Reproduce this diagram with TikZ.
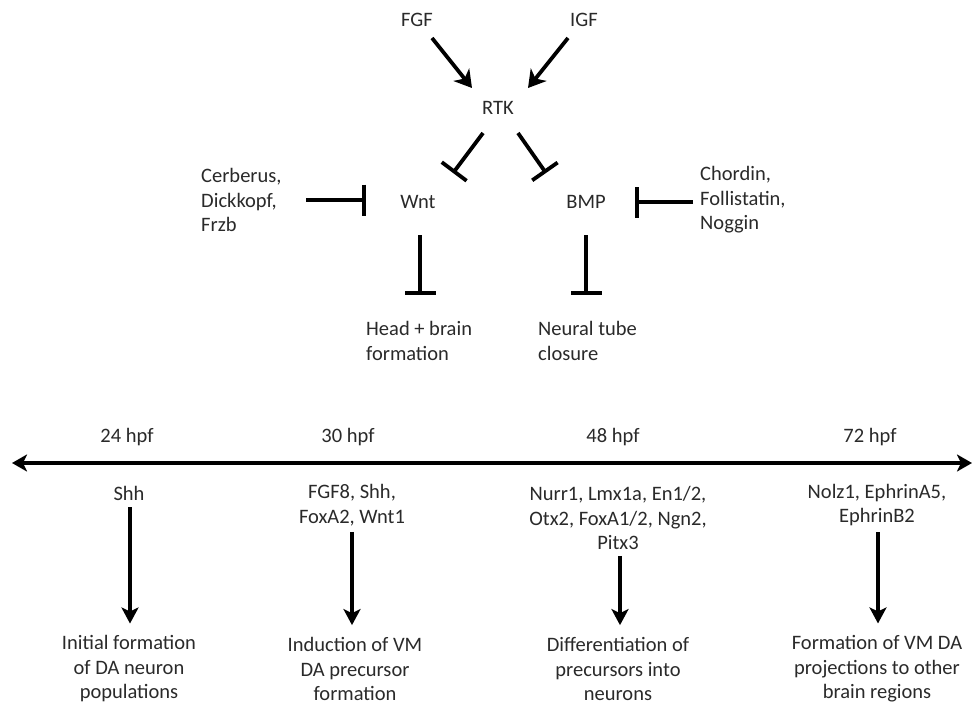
\documentclass[tikz,border=0pt]{standalone}
\usepackage{fontspec}
\setmainfont{Carlito}
\usetikzlibrary{arrows.meta,calc}
\definecolor{txt}{HTML}{2A2A2A}
\begin{document}
\begin{tikzpicture}[x=1pt,y=-1pt,
  lbl/.style={font=\fontsize{20.5}{24.5}\selectfont, text=txt, inner sep=0pt},
  act/.style={line width=3.8pt, -{Stealth[length=17pt,width=20pt,inset=5pt]}},
  inh/.style={line width=3.8pt, -{Bar[width=31pt]}},
  tl/.style={line width=3.6pt, {Stealth[length=15pt,width=17pt,inset=4pt]}-{Stealth[length=15pt,width=17pt,inset=4pt]}},
  down/.style={line width=3.8pt, -{Stealth[length=16pt,width=17pt,inset=4pt]}}]
\useasboundingbox (0,0) rectangle (975,704);
\fill[white] (0,0) rectangle (975,704);
% top pathway
\node[lbl] (FGF) at (417,20) {FGF};
\node[lbl] (IGF) at (584,20) {IGF};
\node[lbl] (RTK) at (498,108) {RTK};
\node[lbl] (Wnt) at (418,202) {Wnt};
\node[lbl] (BMP) at (586,202) {BMP};
\node[lbl, anchor=west, align=left] (Cer) at (201,200) {Cerberus,\\Dickkopf,\\Frzb};
\node[lbl, anchor=west, align=left] (Cho) at (700,200) {Chordin,\\Follistatin,\\Noggin};
\node[lbl, anchor=west, align=left] (Head) at (366,341) {Head + brain\\formation};
\node[lbl, anchor=west, align=left] (Neur) at (538,341) {Neural tube\\closure};

\draw[act] ($(FGF)+(15,18)$) -- ($(RTK)+(-26,-20)$);
\draw[act] ($(IGF)+(-16,18)$) -- ($(RTK)+(30,-20)$);
\draw[inh] ($(RTK)+(-15,25)$) -- ($(Wnt)+(35,-29)$);
\draw[inh] ($(RTK)+(20,25)$) -- ($(BMP)+(-40,-29)$);
\draw[inh] ($(Cer.west)+(105,0)$) -- ($(Wnt)+(-52,-2)$);
\draw[inh] ($(BMP)+(107,0)$) -- ($(BMP)+(49,0)$);
\draw[inh] ($(Wnt)+(2,33)$) -- ($(Wnt)+(2,93)$);
\draw[inh] ($(BMP)+(0,33)$) -- ($(BMP)+(0,93)$);

% timeline
\coordinate (TL) at (12,463);
\coordinate (TR) at (972,463);
\draw[tl] (TL) -- (TR);
\node[lbl] (t24) at (127,437) {24 hpf};
\node[lbl] (t30) at (348,437) {30 hpf};
\node[lbl] (t48) at (613,437) {48 hpf};
\node[lbl] (t72) at (870,437) {72 hpf};

\node[lbl] (g24) at (129,493) {Shh};
\node[lbl, align=center] (g30) at (352,505) {FGF8, Shh,\\FoxA2, Wnt1};
\node[lbl, align=center] (g48) at (618,518) {Nurr1, Lmx1a, En1/2,\\Otx2, FoxA1/2, Ngn2,\\Pitx3};
\node[lbl, align=center] (g72) at (877,505) {Nolz1, EphrinA5,\\EphrinB2};

\node[lbl, align=center] (o24) at (129,669) {Initial formation\\of DA neuron\\populations};
\node[lbl, align=center] (o30) at (355,669) {Induction of VM\\DA precursor\\formation};
\node[lbl, align=center] (o48) at (618,669) {Differentiation of\\precursors into\\neurons};
\node[lbl, align=center] (o72) at (877,669) {Formation of VM DA\\projections to other\\brain regions};

\draw[down] ($(g24.south)+(1,7)$) -- ($(o24.north)+(1,-12)$);
\draw[down] ($(g30.south)+(0,6)$) -- ($(o30.north)+(-3,-12)$);
\draw[down] ($(g48.south)+(2,6)$) -- ($(o48.north)+(2,-12)$);
\draw[down] ($(g72.south)+(1,6)$) -- ($(o72.north)+(1,-12)$);
\end{tikzpicture}
\end{document}
